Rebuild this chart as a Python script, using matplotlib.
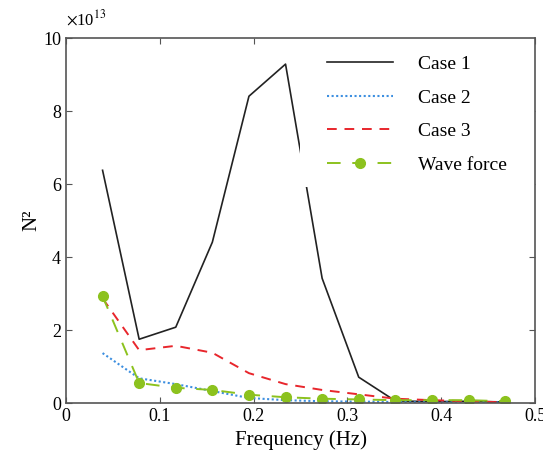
import matplotlib
matplotlib.use("Agg")
import matplotlib.pyplot as plt
from matplotlib.patches import Rectangle

plt.rcParams['font.family'] = ['Liberation Serif', 'DejaVu Serif']
plt.rcParams['mathtext.fontset'] = 'stix'

# data (values in units of 1e13 N^2)
freq = [0.039, 0.078, 0.117, 0.156, 0.195, 0.234, 0.273, 0.312, 0.351, 0.390, 0.429, 0.468]
case1 = [6.38, 1.75, 2.08, 4.41, 8.41, 9.29, 3.42, 0.71, 0.06, 0.04, 0.05, 0.03]
case2 = [1.37, 0.68, 0.52, 0.33, 0.14, 0.08, 0.05, 0.04, 0.03, 0.02, 0.02, 0.02]
case3 = [2.87, 1.45, 1.57, 1.38, 0.82, 0.52, 0.36, 0.24, 0.12, 0.08, 0.05, 0.02]
wave = [2.93, 0.55, 0.42, 0.36, 0.23, 0.16, 0.12, 0.10, 0.08, 0.08, 0.08, 0.05]
xticks = [0, 0.1, 0.2, 0.3, 0.4, 0.5]
xticklabels = ['0', '0.1', '0.2', '0.3', '0.4', '0.5']
yticks = [0, 2, 4, 6, 8, 10]

fig = plt.figure(figsize=(5.43, 4.66), dpi=100)
ax = fig.add_axes([0.1215, 0.135, 0.864, 0.783])

ax.plot(freq, case1, color='#222222', lw=1.2, label='Case 1')
ax.plot(freq, case2, color='#3d8fe0', lw=1.5, ls=(0, (1, 1.2)), label='Case 2')
ax.plot(freq, case3, color='#e8262c', lw=1.4, ls=(0, (5, 4)), label='Case 3')
ax.plot(freq, wave, color='#8cc21e', lw=1.4, ls=(0, (7, 6)),
        marker='o', ms=7, label='Wave force')

ax.set_xlim(0, 0.5)
ax.set_ylim(0, 10)
ax.set_xticks(xticks)
ax.set_xticklabels(xticklabels)
ax.set_yticks(yticks)
ax.text(0.0, 1.025, r'$\times$10$^{13}$', transform=ax.transAxes, fontsize=12,
        ha='left', va='bottom')

ax.tick_params(direction='in', top=True, right=True, labelsize=13, length=4, color='#555555')
for s in ax.spines.values():
    s.set_color('#555555')
    s.set_linewidth(1.2)

ax.set_xlabel('Frequency (Hz)', fontsize=15)
ax.set_ylabel('N²', fontsize=15)
ax.yaxis.set_label_coords(-0.052, 0.5)

# white legend background (covers part of Case 1 line, as in the original)
ax.add_patch(Rectangle((0.499, 0.592), 0.501, 0.408, transform=ax.transAxes,
                       facecolor='white', edgecolor='none', zorder=2.2))
leg = ax.legend(loc='upper left', bbox_to_anchor=(0.5565, 0.953), frameon=False, fontsize=14,
                handlelength=3.4, labelspacing=0.82, handletextpad=1.29, borderpad=0,
                borderaxespad=0)

fig.savefig("out.png", dpi=100)
